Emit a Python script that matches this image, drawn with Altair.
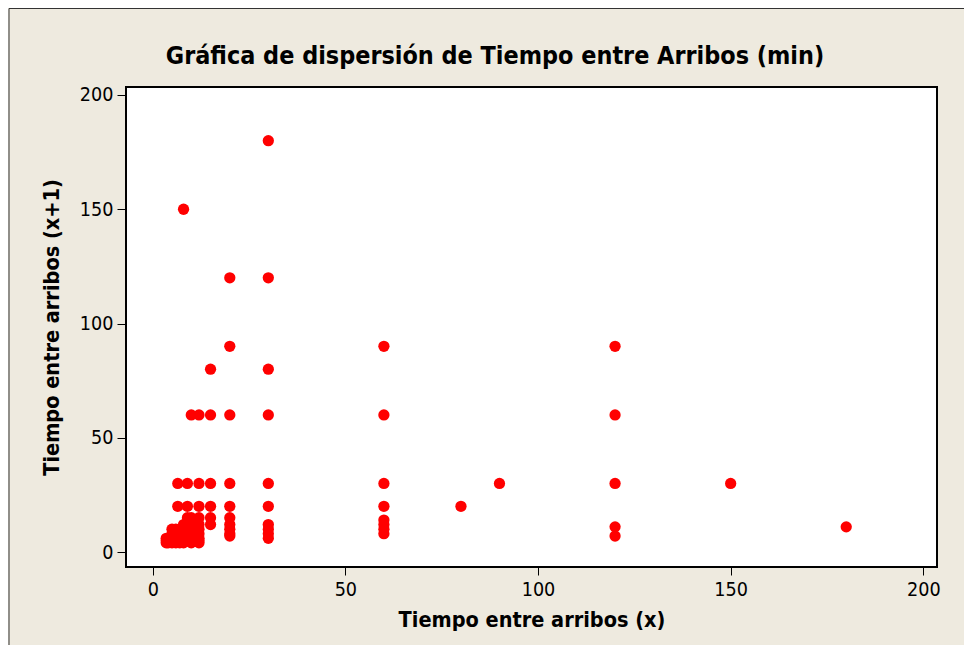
import altair as alt
import pandas as pd

# (x, x+1) pairs
x_vals = [30, 8, 20, 30, 20, 15, 30,
          10, 12, 15, 20, 30,
          6.5, 9, 12, 15, 20, 30,
          6.5, 9, 12, 15, 20, 30,
          15, 15,
          20, 20, 20, 20, 20,
          30, 30, 30, 30,
          60, 60, 60, 60, 60, 60, 60, 60,
          80, 90,
          120, 120, 120, 120, 120,
          150, 180,
          3.5, 3.5, 3.5,
          4, 4, 4,
          5, 5, 5, 5, 5,
          6, 6, 6, 6, 6,
          7, 7, 7, 7, 7,
          8, 8, 8, 8, 8, 8,
          9, 9, 9, 9, 9, 9,
          10, 10, 10, 10, 10, 10, 10,
          12, 12, 12, 12, 12, 12, 12]
y_vals = [180, 150, 120, 120, 90, 80, 80,
          60, 60, 60, 60, 60,
          30, 30, 30, 30, 30, 30,
          20, 20, 20, 20, 20, 20,
          15, 12,
          15, 12, 10, 8, 7,
          12, 10, 8, 6,
          90, 60, 30, 20, 14, 12, 10, 8,
          20, 30,
          90, 60, 30, 11, 7,
          30, 11,
          4, 5, 6,
          4, 5, 6,
          4, 5, 6, 8, 10,
          4, 5, 6, 8, 10,
          4, 5, 6, 8, 10,
          4, 5, 6, 8, 10, 12,
          5, 6, 8, 10, 12, 15,
          4, 5, 6, 8, 10, 12, 15,
          4, 5, 6, 8, 10, 12, 15]
tick_values = [0, 50, 100, 150, 200]

df = pd.DataFrame({"x": x_vals, "y": y_vals})

FONT = "DejaVu Sans Condensed"
BG = "#EEEADF"

x_axis = alt.Axis(values=tick_values, title="Tiempo entre arribos (x)", grid=False, domain=False,
                  tickSize=8, tickColor="black", tickWidth=1,
                  labelFont=FONT, labelFontSize=19.6, labelColor="black", labelPadding=5,
                  titleFont=FONT, titleFontSize=21.5, titleFontWeight="bold", titleColor="black",
                  titleX=405.5, titleY=59, titleAlign="center", titleBaseline="alphabetic")
y_axis = alt.Axis(values=tick_values, title="Tiempo entre arribos (x+1)", grid=False, domain=False,
                  tickSize=9, tickColor="black", tickWidth=1,
                  labelFont=FONT, labelFontSize=19.6, labelColor="black", labelPadding=4,
                  titleFont=FONT, titleFontSize=21.5, titleFontWeight="bold", titleColor="black",
                  titleAngle=270, titleX=-68, titleY=240, titleAlign="center", titleBaseline="alphabetic")

points = alt.Chart(df).mark_circle(size=127, color="#FF0000", opacity=1).encode(
    x=alt.X("x:Q", scale=alt.Scale(domain=[-6.94, 203.56], nice=False, zero=False), axis=x_axis),
    y=alt.Y("y:Q", scale=alt.Scale(domain=[-6.56, 203.5], nice=False, zero=False), axis=y_axis),
)

frame = alt.Chart(alt.Data(values=[{}])).mark_rect(fillOpacity=0, stroke="#333333", strokeWidth=1).encode(
    x=alt.value(-117), y=alt.value(-78.5), x2=alt.value(2000), y2=alt.value(2000)
)

chart = alt.layer(frame, points).properties(
    width=811, height=480,
    background=BG,
    autosize=alt.AutoSizeParams(type="none"),
    padding={"left": 118, "top": 79, "right": 27, "bottom": 78},
    title=alt.TitleParams("Gráfica de dispersión de Tiempo entre Arribos (min)",
                          font=FONT, fontSize=24.9, fontWeight="bold", color="black",
                          anchor="middle", frame="group", offset=0, baseline="alphabetic",
                          dx=-36.5, dy=81),
).configure_view(stroke="black", strokeWidth=2, fill="white")

chart.save("out.html", embed_options={"renderer": "svg", "actions": False})
